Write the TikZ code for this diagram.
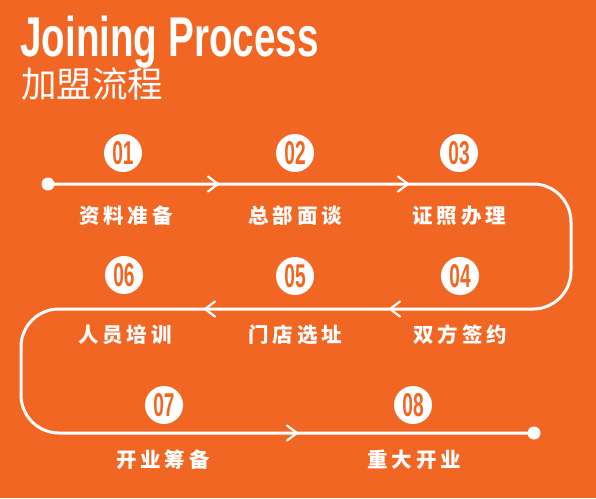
\documentclass[tikz,border=0pt]{standalone}
\usepackage{fontspec}
\usepackage{graphicx}
\usetikzlibrary{calc}
\setmainfont{Liberation Sans}
\newfontfamily\cjk{Noto Sans CJK SC}
\definecolor{bgorange}{HTML}{F26623}
\newcommand\ks{\kern4pt}
\tikzset{
  numc/.style={circle, fill=white, minimum size=38pt, inner sep=0pt, text=bgorange,
    font=\fontsize{33}{33}\selectfont\bfseries},
  lab/.style={text=white, inner sep=0pt, font=\cjk\fontsize{20.5}{20.5}\selectfont\bfseries},
  dotn/.style={circle, fill=white, minimum size=13pt, inner sep=0pt},
  flow/.style={draw=white, line width=3pt},
  chev/.style={draw=white, line width=2.2pt}
}
\newcommand\num[1]{\scalebox{0.58}[1]{#1}}
\begin{document}
\begin{tikzpicture}[x=1pt,y=-1pt]
\fill[bgorange] (0,0) rectangle (596,498);
\useasboundingbox (0,0) rectangle (596,498);
% title
\node[anchor=base west, text=white, inner sep=0pt] (title) at (20,56)
  {\fontsize{56}{56}\selectfont\bfseries\scalebox{0.69}[1]{Joining Process}};
\node[anchor=base west, text=white, inner sep=0pt] (subtitle) at (21,97)
  {\cjk\fontsize{35.5}{35.5}\selectfont 加盟流程};
% path
\node[dotn] (s) at (48,184) {};
\node[dotn] (e) at (534,433) {};
\coordinate (c1) at (571,184);
\coordinate (c2) at (571,309);
\coordinate (c3) at (21,309);
\coordinate (c4) at (21,433);
\draw[flow, rounded corners=38pt] (s.center) -- (c1) -- (c2) -- (c3) -- (c4) -- (e.center);
% chevrons
\foreach \x/\y/\d [count=\i] in {218/184/1, 408/184/1, 390/309/-1, 205/309/-1, 297/433/1}{
  \coordinate (t\i) at (\x,\y);
  \draw[chev, line cap=round, line join=miter] ($(t\i)+(-10*\d,-7.5)$) -- (t\i) -- ($(t\i)+(-10*\d,7.5)$);
}
% numbers
\node[numc] (n1) at (123,153) {\num{01}};
\node[numc] (n2) at (295,153) {\num{02}};
\node[numc] (n3) at (459,153) {\num{03}};
\node[numc] (n4) at (460,276) {\num{04}};
\node[numc] (n5) at (295,276) {\num{05}};
\node[numc] (n6) at (124,275) {\num{06}};
\node[numc] (n7) at (164,405) {\num{07}};
\node[numc] (n8) at (413,405) {\num{08}};
% labels
\node[lab] (l1) at (126,216) {资\ks 料\ks 准\ks 备};
\node[lab] (l2) at (295,216) {总\ks 部\ks 面\ks 谈};
\node[lab] (l3) at (459,216) {证\ks 照\ks 办\ks 理};
\node[lab] (l4) at (460,335) {双\ks 方\ks 签\ks 约};
\node[lab] (l5) at (295,335) {门\ks 店\ks 选\ks 址};
\node[lab] (l6) at (125,335) {人\ks 员\ks 培\ks 训};
\node[lab] (l7) at (163,460) {开\ks 业\ks 筹\ks 备};
\node[lab] (l8) at (414,460) {重\ks 大\ks 开\ks 业};
\end{tikzpicture}
\end{document}
